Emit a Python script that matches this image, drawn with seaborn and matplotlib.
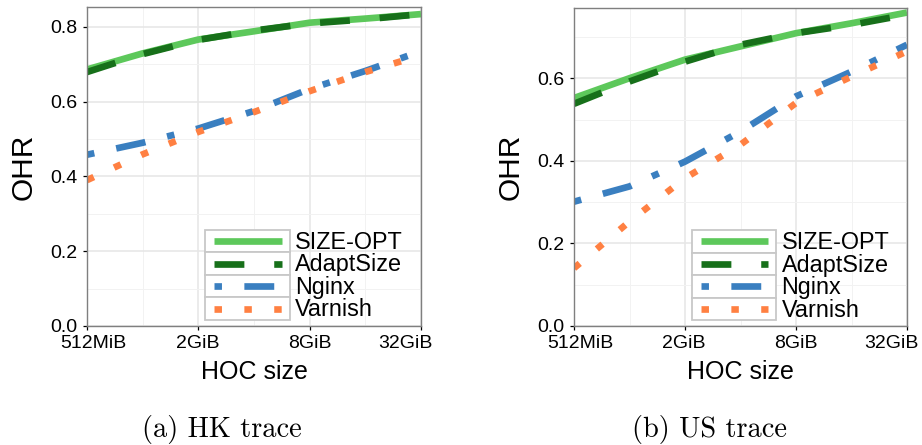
import numpy as np
import pandas as pd
import seaborn as sns
import matplotlib
matplotlib.use("Agg")
import matplotlib.pyplot as plt
from matplotlib.patches import Rectangle
from matplotlib.lines import Line2D
from matplotlib.ticker import FixedLocator, NullFormatter
from matplotlib.transforms import ScaledTranslation

# ---------------- data ----------------
sizes_gib = [0.5, 1, 2, 4, 8, 16, 32]
xtick_vals = [0.5, 2, 8, 32]
xtick_labels = ["512MiB", "2GiB", "8GiB", "32GiB"]
policies = ["SIZE-OPT", "AdaptSize", "Nginx", "Varnish"]

hk_size_opt = [0.686, 0.729, 0.766, 0.788, 0.811, 0.822, 0.834]
hk_adaptsize = [0.679, 0.727, 0.765, 0.790, 0.809, 0.820, 0.834]
hk_nginx = [0.458, 0.490, 0.528, 0.575, 0.634, 0.682, 0.735]
hk_varnish = [0.390, 0.459, 0.519, 0.572, 0.628, 0.679, 0.724]

us_size_opt = [0.552, 0.600, 0.645, 0.677, 0.709, 0.733, 0.759]
us_adaptsize = [0.538, 0.592, 0.640, 0.681, 0.709, 0.729, 0.754]
us_nginx = [0.301, 0.338, 0.398, 0.471, 0.556, 0.616, 0.681]
us_varnish = [0.140, 0.253, 0.358, 0.439, 0.540, 0.604, 0.665]

hk_yticks = [0.0, 0.2, 0.4, 0.6, 0.8]
us_yticks = [0.0, 0.2, 0.4, 0.6]
hk_ymax = 0.853
us_ymax = 0.770
captions = ["(a) HK trace", "(b) US trace"]

# ---------------- style ----------------
colors = {"SIZE-OPT": "#5DC85B", "AdaptSize": "#17701A",
          "Nginx": "#3A7FC0", "Varnish": "#FF8042"}
LW = 4.8
u = 1.12
dashes = {"SIZE-OPT": "", "AdaptSize": (4 * u, 4 * u),
          "Nginx": (1 * u, 3 * u, 4 * u, 3 * u), "Varnish": (1 * u, 3 * u)}
# horizontal nudges (pixels) of the x tick labels, as in the reference
xlabel_shift_px = [6, -1, 0, -15.5]

sans = ["Liberation Sans", "DejaVu Sans"]
plt.rcParams["font.family"] = sans


def make_df(vals):
    rows = []
    for p, v in zip(policies, vals):
        for s, y in zip(sizes_gib, v):
            rows.append({"size": s, "ohr": y, "policy": p})
    return pd.DataFrame(rows)


hk_df = make_df([hk_size_opt, hk_adaptsize, hk_nginx, hk_varnish])
us_df = make_df([us_size_opt, us_adaptsize, us_nginx, us_varnish])

fig = plt.figure(figsize=(9.22, 4.45), dpi=100)
ax_l = fig.add_axes([87 / 922, 1 - 326 / 445, 334 / 922, 319 / 445])
ax_r = fig.add_axes([574 / 922, 1 - 326 / 445, 333 / 922, 318 / 445])


def draw_legend(ax):
    x0, x1 = 0.353, 0.608
    top, bottom = 0.301, 0.019
    h = (top - bottom) / 4
    for i, name in enumerate(policies):
        yb = top - (i + 1) * h
        ax.add_patch(Rectangle((x0, yb), x1 - x0, h, transform=ax.transAxes,
                               facecolor="white", edgecolor="#c8c8c8",
                               lw=1.3, zorder=5))
        ln = Line2D([x0 + 0.027, x1 - 0.024], [yb + h / 2] * 2,
                    transform=ax.transAxes, color=colors[name], lw=LW,
                    solid_capstyle="butt", dash_capstyle="butt", zorder=6)
        if dashes[name]:
            ln.set_dashes(dashes[name])
        ax.add_line(ln)
        ax.text(x1 + 0.015, yb + h / 2 - 0.004, name, transform=ax.transAxes,
                va="center", ha="left", fontsize=16.8, zorder=6, color="black")


for ax, df, yt, ymax in [(ax_l, hk_df, hk_yticks, hk_ymax),
                         (ax_r, us_df, us_yticks, us_ymax)]:
    sns.lineplot(data=df, x="size", y="ohr", hue="policy", style="policy",
                 hue_order=policies, style_order=policies,
                 palette=colors, dashes=dashes, linewidth=LW,
                 legend=False, ax=ax)
    for line in ax.lines:
        line.set_dash_capstyle("butt")
        line.set_solid_capstyle("butt")
    ax.set_xscale("log", base=2)
    ax.set_xlim(0.5, 32)
    ax.set_ylim(0, ymax)
    ax.set_xticks(xtick_vals)
    ax.set_xticklabels(xtick_labels)
    ax.xaxis.set_minor_locator(FixedLocator([1, 4, 16]))
    ax.xaxis.set_minor_formatter(NullFormatter())
    ax.set_yticks(yt)
    ax.set_yticklabels([f"{v:.1f}" for v in yt])
    ax.yaxis.set_minor_locator(FixedLocator([0.1, 0.3, 0.5, 0.7]))
    ax.yaxis.set_minor_formatter(NullFormatter())
    ax.set_facecolor("white")
    ax.set_axisbelow(True)
    ax.grid(which="major", color="#E6E6E6", lw=1.1)
    ax.grid(which="minor", color="#F2F2F2", lw=0.7)
    for s in ax.spines.values():
        s.set_color("#7f7f7f")
        s.set_linewidth(1.0)
    ax.tick_params(which="major", direction="out", length=3.2, width=0.9,
                   color="black", labelsize=14, labelcolor="black")
    ax.tick_params(axis="x", which="major", pad=3.3)
    ax.tick_params(axis="y", which="major", pad=4)
    ax.tick_params(which="minor", length=0)
    for lbl, dx in zip(ax.get_xticklabels(), xlabel_shift_px):
        lbl.set_transform(lbl.get_transform() +
                          ScaledTranslation(dx / 100, 0, fig.dpi_scale_trans))
    ax.set_xlabel("HOC size", fontsize=18, labelpad=6)
    ax.set_ylabel("OHR", fontsize=21.5, labelpad=9)
    draw_legend(ax)

fig.text(222 / 922, 1 - 437 / 445, captions[0], fontsize=20.4,
         family=["cmr10", "DejaVu Serif"], ha="center", va="baseline")
fig.text(709 / 922, 1 - 437 / 445, captions[1], fontsize=20.4,
         family=["cmr10", "DejaVu Serif"], ha="center", va="baseline")

fig.savefig("out.png", dpi=100, facecolor="white")
